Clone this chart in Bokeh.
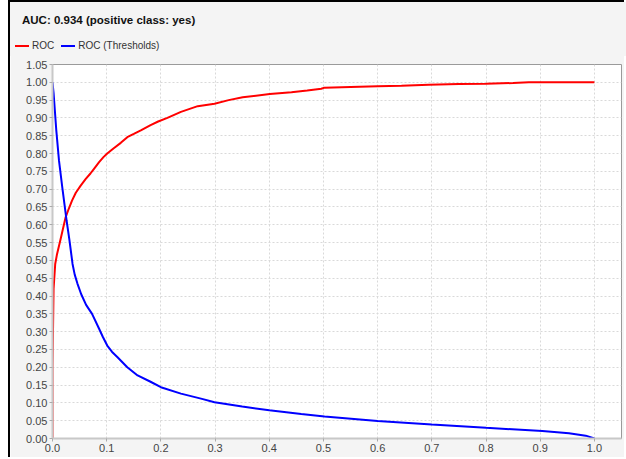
from bokeh.plotting import figure
from bokeh.models import NumeralTickFormatter, FixedTicker, Div
from bokeh.layouts import column
from bokeh.embed import file_html
from bokeh.resources import INLINE

title_text = "AUC: 0.934 (positive class: yes)"
series_names = ["ROC", "ROC (Thresholds)"]
series_colors = ["#ff0000", "#0000ff"]

roc_x = [0.0, 0.0, 0.002, 0.005, 0.008, 0.015, 0.024, 0.030, 0.036, 0.043, 0.052, 0.061, 0.070,
         0.078, 0.086, 0.094, 0.101, 0.113, 0.126, 0.138, 0.150, 0.163, 0.181, 0.195, 0.212,
         0.237, 0.268, 0.299, 0.325, 0.351, 0.401, 0.441, 0.470, 0.496, 0.502, 0.550, 0.600,
         0.644, 0.694, 0.750, 0.800, 0.850, 0.879, 0.950, 1.0]
roc_y = [0.0, 0.20, 0.42, 0.49, 0.515, 0.56, 0.62, 0.645, 0.668, 0.69, 0.71, 0.728, 0.744,
         0.76, 0.776, 0.79, 0.80, 0.815, 0.83, 0.846, 0.855, 0.865, 0.88, 0.89, 0.90,
         0.917, 0.933, 0.94, 0.95, 0.958, 0.967, 0.972, 0.977, 0.982, 0.985, 0.987, 0.989,
         0.99, 0.993, 0.995, 0.996, 0.998, 1.0, 1.0, 1.0]

thr_x = [0.0, 0.002, 0.007, 0.012, 0.018, 0.026, 0.031, 0.034, 0.037, 0.041, 0.046, 0.053,
         0.062, 0.073, 0.086, 0.093, 0.101, 0.110, 0.120, 0.138, 0.157, 0.180, 0.200, 0.237,
         0.274, 0.299, 0.350, 0.400, 0.459, 0.502, 0.600, 0.700, 0.800, 0.904, 0.953, 0.984, 1.0]
thr_y = [1.0, 0.97, 0.865, 0.78, 0.706, 0.612, 0.56, 0.525, 0.49, 0.46, 0.435, 0.405,
         0.375, 0.35, 0.308, 0.285, 0.261, 0.243, 0.228, 0.20, 0.177, 0.16, 0.144, 0.126,
         0.112, 0.102, 0.09, 0.079, 0.069, 0.062, 0.049, 0.039, 0.030, 0.021, 0.015, 0.008, 0.0]

x_ticks = [round(0.1 * i, 1) for i in range(11)]
y_ticks = [round(0.05 * i, 2) for i in range(22)]

BG = "#f4f4f4"

legend_html = "".join(
    f'<span style="display:inline-block;width:14px;height:2px;background:{c};'
    f'vertical-align:middle;margin-right:3px"></span>'
    f'<span style="margin-right:7px;vertical-align:middle">{n}</span>'
    for n, c in zip(series_names, series_colors))

header_html = (
    f'<div style="position:relative;width:616px;height:54px;background:{BG};'
    f'font-family:\'Liberation Sans\',Arial,sans-serif">'
    f'<div style="position:absolute;left:12px;top:10px;font-size:11.5px;font-weight:bold;'
    f'color:#111111;white-space:nowrap">{title_text}</div>'
    f'<div style="position:absolute;left:5px;top:38px;font-size:10px;color:#333333;'
    f'white-space:nowrap;line-height:12px">{legend_html}</div>'
    f'</div>')

header = Div(text=header_html, width=616, height=54, margin=(0, 0, 0, 8),
             styles={"border-left": "2px solid black",
                     "border-top": "2px solid black", "background-color": BG})

p = figure(width=616, height=403, output_backend="svg", toolbar_location=None,
           x_range=(0, 1.05), y_range=(0, 1.05), margin=(0, 0, 0, 8),
           min_border_left=42, min_border_right=5, min_border_top=10, min_border_bottom=19)
p.styles = {"border-left": "2px solid black"}
p.background_fill_color = "white"
p.border_fill_color = BG
p.outline_line_color = "#9a9a9a"
p.outline_line_width = 1

p.line(roc_x, roc_y, line_color=series_colors[0], line_width=2)
p.line(thr_x, thr_y, line_color=series_colors[1], line_width=2)

p.xaxis.ticker = FixedTicker(ticks=x_ticks)
p.yaxis.ticker = FixedTicker(ticks=y_ticks)
p.xaxis.formatter = NumeralTickFormatter(format="0.0")
p.yaxis.formatter = NumeralTickFormatter(format="0.00")
for ax in (p.xaxis, p.yaxis):
    ax.major_label_text_font = "Liberation Sans"
    ax.major_label_text_font_size = "11px"
    ax.major_label_text_color = "#444444"
    ax.axis_line_color = "#c8c8c8"
    ax.axis_line_width = 2
    ax.major_tick_line_color = "#aaaaaa"
    ax.major_tick_out = 3
    ax.major_tick_in = 0
    ax.minor_tick_line_color = None
    ax.major_label_standoff = 2

p.xgrid.grid_line_color = "#d9d9d9"
p.ygrid.grid_line_color = "#d9d9d9"
p.xgrid.grid_line_dash = "2 2"
p.ygrid.grid_line_dash = "2 2"

layout = column(header, p, spacing=0, margin=0)
open("out.html", "w").write(file_html(layout, INLINE))
